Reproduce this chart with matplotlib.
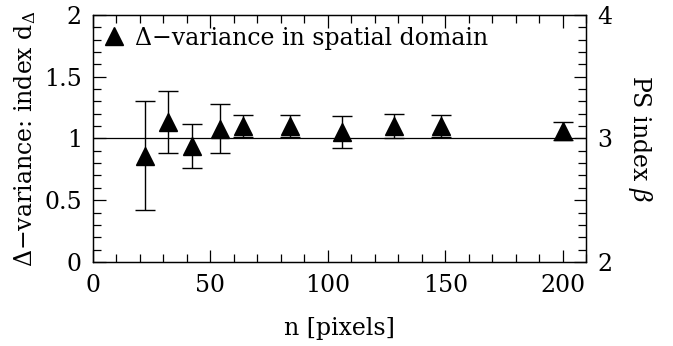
import numpy as np
import matplotlib.pyplot as plt
from matplotlib.ticker import MultipleLocator, FuncFormatter
from matplotlib.lines import Line2D

# data
n_pix = [22, 32, 42, 54, 64, 84, 106, 128, 148, 200]
d_delta = [0.86, 1.13, 0.94, 1.08, 1.10, 1.10, 1.05, 1.10, 1.10, 1.06]
d_err = [0.44, 0.25, 0.18, 0.20, 0.09, 0.09, 0.13, 0.10, 0.09, 0.07]

plt.rcParams['font.family'] = ['DejaVu Serif']
plt.rcParams['mathtext.fontset'] = 'dejavuserif'
fs = 17

fig = plt.figure(figsize=(6.73, 3.46), dpi=100)
ax = fig.add_axes([0.138, 0.243, 0.733, 0.714])

ax.axhline(1.0, color='black', lw=0.9, zorder=1)
ax.errorbar(n_pix, d_delta, yerr=d_err, fmt='^', color='black', ms=13,
            capsize=7, elinewidth=1.0, capthick=1.0)

ax.set_xlim(0, 210)
ax.set_ylim(0, 2)
ax.xaxis.set_major_locator(MultipleLocator(50))
ax.xaxis.set_minor_locator(MultipleLocator(10))
ax.yaxis.set_major_locator(MultipleLocator(0.5))
ax.yaxis.set_minor_locator(MultipleLocator(0.1))
ax.yaxis.set_major_formatter(FuncFormatter(lambda v, p: f'{v:g}'))
ax.tick_params(which='both', direction='in', top=True, labelsize=fs, pad=8)
ax.tick_params(which='major', length=9, width=0.9)
ax.tick_params(which='minor', length=6, width=0.9)
ax.tick_params(axis='x', pad=9)

ax.set_xlabel('n [pixels]', fontsize=fs, labelpad=14)
ax.set_ylabel(r'Δ−variance: index d$_\Delta$', fontsize=fs, labelpad=4)

ax2 = ax.twinx()
ax2.set_ylim(2, 4)
ax2.yaxis.set_major_locator(MultipleLocator(0.5))
ax2.yaxis.set_minor_locator(MultipleLocator(0.1))
ax2.yaxis.set_major_formatter(FuncFormatter(lambda v, p: f'{v:g}' if v == int(v) else ''))
ax2.tick_params(which='both', direction='in', labelsize=fs, pad=8)
ax2.tick_params(which='major', length=9, width=0.9)
ax2.tick_params(which='minor', length=6, width=0.9)
ax2.set_ylabel(r'PS index $\beta$', fontsize=fs, rotation=270, labelpad=30)

for a in (ax, ax2):
    for s in a.spines.values():
        s.set_linewidth(0.9)

handle = Line2D([], [], ls='none', marker='^', color='black', ms=13)
ax.legend([handle], ['Δ−variance in spatial domain'], loc='upper left',
          frameon=False, fontsize=fs, numpoints=1, handlelength=0.8,
          handletextpad=0.5, borderaxespad=0.2, borderpad=0.3)

fig.savefig('out.png', dpi=100)
